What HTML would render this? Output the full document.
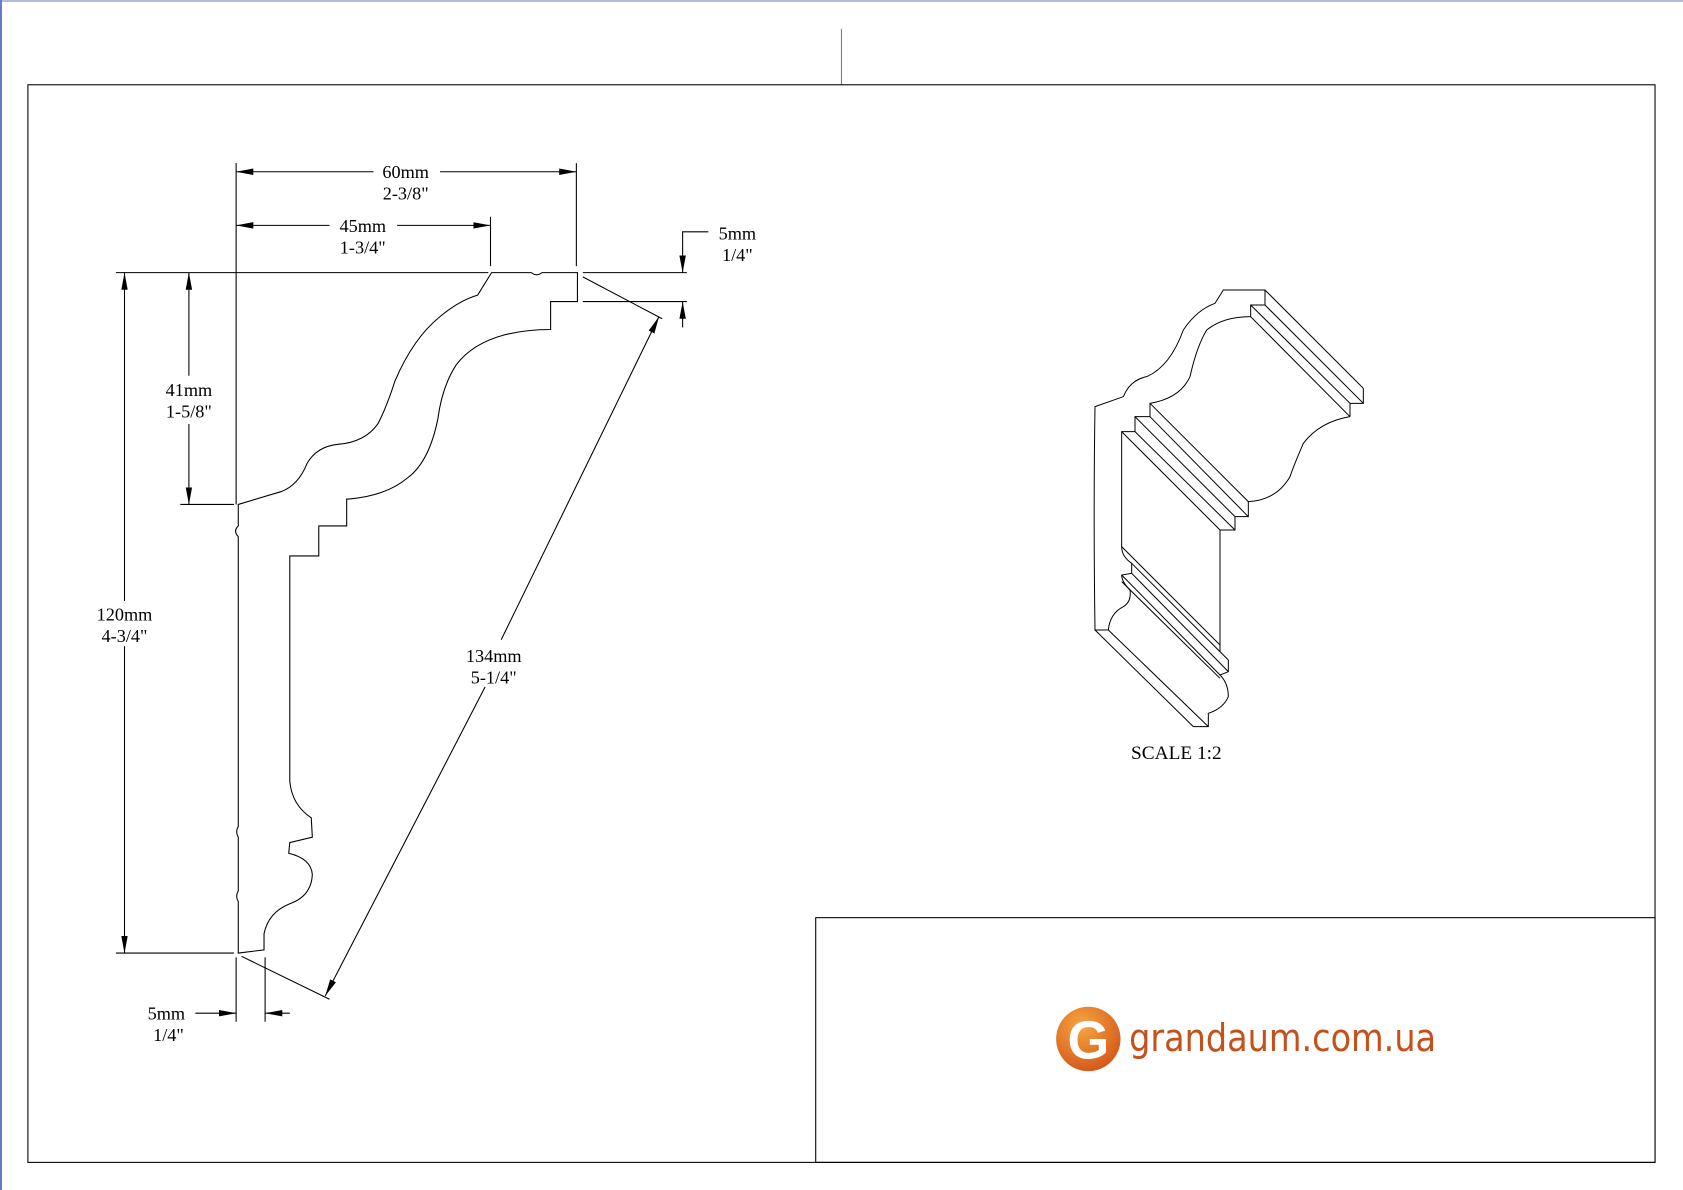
<!DOCTYPE html>
<html><head><meta charset="utf-8"><style>html,body{margin:0;padding:0;background:#fff}svg{display:block}</style></head>
<body>
<svg width="1683" height="1190" viewBox="0 0 1683 1190" xmlns="http://www.w3.org/2000/svg">
<defs>
<marker id="a" viewBox="0 0 16 6" refX="16" refY="3" markerWidth="16" markerHeight="6" markerUnits="userSpaceOnUse" orient="auto-start-reverse"><path d="M0,0 L16,3 L0,6 z" fill="#000"/></marker>
<radialGradient id="g" cx="40%" cy="30%" r="75%"><stop offset="0" stop-color="#f7a640"/><stop offset="1" stop-color="#d2561a"/></radialGradient>
</defs>
<rect x="0" y="0" width="1683" height="1190" fill="#fff"/>
<line x1="1" y1="0" x2="1" y2="1190" stroke="#6a78c8" stroke-width="2"/>
<line x1="0" y1="1" x2="1683" y2="1" stroke="#6a78c8" stroke-width="1"/>
<g transform="scale(1.0733)" fill="none" stroke="#000" stroke-width="1">
<line x1="784" y1="27" x2="784" y2="79" stroke="#4a8ab8"/>
<rect x="26" y="79" width="1516" height="1004"/>
<rect x="760" y="855" width="782" height="228"/>
<!-- profile -->
<path d="M458,254 L495,254 Q500,258 505,254 L531,254 L538,254 L538,281 L513,281 L513,307 Q490,307 470,312 Q440,320 425,340 Q412,360 408,390 Q400,430 380,445 Q360,462 325,465 L323,465 L323,490 L297,490 L297,518 L270,518 L270,728 Q272,750 290,762 L291,780 L270,785 L269,795 Q290,800 291,815 Q290,835 270,842 Q250,850 246,870 L246,885 L222,888 L222,840 Q219,835 222,830 L222,780 Q219,775 222,770 L222,500 Q217,495 222,490 L222,470 L262,458 Q278,452 286,432 Q295,416 315,414 Q340,412 352,395 Q360,380 368,355 Q385,315 410,295 Q428,280 445,275 Z"/>
<!-- extension lines -->
<line x1="220" y1="152" x2="220" y2="470"/>
<line x1="537" y1="152" x2="537" y2="248"/>
<line x1="457" y1="202" x2="457" y2="248"/>
<line x1="108" y1="254" x2="455" y2="254"/>
<line x1="543" y1="254" x2="640" y2="254"/>
<line x1="543" y1="281" x2="640" y2="281"/>
<line x1="168" y1="470" x2="218" y2="470"/>
<line x1="108" y1="888" x2="218" y2="888"/>
<line x1="220" y1="892" x2="220" y2="952"/>
<line x1="247" y1="892" x2="247" y2="952"/>
<line x1="543" y1="258" x2="617" y2="297"/>
<line x1="225" y1="891" x2="307" y2="931"/>
<!-- dims -->
<line x1="220" y1="160" x2="348" y2="160" marker-start="url(#a)"/>
<line x1="410" y1="160" x2="537" y2="160" marker-end="url(#a)"/>
<line x1="220" y1="210" x2="307" y2="210" marker-start="url(#a)"/>
<line x1="370" y1="210" x2="457" y2="210" marker-end="url(#a)"/>
<line x1="116" y1="254" x2="116" y2="560" marker-start="url(#a)"/>
<line x1="116" y1="602" x2="116" y2="888" marker-end="url(#a)"/>
<line x1="176" y1="254" x2="176" y2="350" marker-start="url(#a)"/>
<line x1="176" y1="395" x2="176" y2="470" marker-end="url(#a)"/>
<polyline points="660,216 636,216 636,254" marker-end="url(#a)"/>
<line x1="636" y1="305" x2="636" y2="281" marker-end="url(#a)"/>
<line x1="614" y1="295" x2="467" y2="596" marker-start="url(#a)"/>
<line x1="452" y1="640" x2="303" y2="928" marker-end="url(#a)"/>
<line x1="182" y1="944" x2="220" y2="944" marker-end="url(#a)"/>
<line x1="270" y1="944" x2="247" y2="944" marker-end="url(#a)"/>
<g fill="#000" stroke="none" font-family="Liberation Serif, serif" font-size="17" text-anchor="middle">
<text x="378" y="166">60mm</text><text x="378" y="186">2-3/8"</text>
<text x="338" y="216">45mm</text><text x="338" y="236">1-3/4"</text>
<text x="687" y="223">5mm</text><text x="687" y="243">1/4"</text>
<text x="116" y="578">120mm</text><text x="116" y="598">4-3/4"</text>
<text x="176" y="369">41mm</text><text x="176" y="389">1-5/8"</text>
<text x="460" y="617">134mm</text><text x="460" y="637">5-1/4"</text>
<text x="155" y="950">5mm</text><text x="157" y="970">1/4"</text>
<text x="1096" y="707" font-size="18">SCALE  1:2</text>
</g>
<!-- logo -->
<circle cx="1014" cy="968" r="30" fill="url(#g)" stroke="none"/>
<text x="1014" y="986" fill="#fff" stroke="none" font-family="Liberation Sans, sans-serif" font-weight="bold" font-size="50" text-anchor="middle">G</text>
<text x="1052" y="979" fill="#c4501c" stroke="none" font-family="DejaVu Sans, sans-serif" font-size="36" textLength="286" lengthAdjust="spacingAndGlyphs">grandaum.com.ua</text>
</g>
<!-- iso drawing -->
<g transform="translate(1080,280) scale(0.33333)" fill="none" stroke="#000" stroke-width="3">
<path d="M45,380 Q40,700 45,1050 L85,1050 Q90,1000 130,980 Q155,965 150,930 Q125,905 125,885 L155,880 L155,850 Q125,830 125,800 L125,455 L165,455 L165,410 L210,410 L210,370 Q300,355 330,290 Q350,200 380,150 Q430,110 512,110 L512,75 L555,75 L555,30 L430,30 L405,70 Q350,90 310,150 Q270,260 200,290 Q150,300 130,350 Z"/>
<line x1="555" y1="30" x2="850" y2="325"/>
<line x1="555" y1="75" x2="850" y2="370"/>
<line x1="512" y1="75" x2="810" y2="370"/>
<line x1="512" y1="110" x2="810" y2="410"/>
<polyline points="850,325 850,370 810,370 810,410"/>
<path d="M810,410 Q720,425 670,490 Q640,560 630,590 Q590,660 505,665 L505,710 L465,710 L465,750 L420,750 L420,1115"/>
<line x1="210" y1="370" x2="505" y2="665"/>
<line x1="210" y1="410" x2="505" y2="710"/>
<line x1="165" y1="410" x2="465" y2="710"/>
<line x1="165" y1="455" x2="465" y2="750"/>
<line x1="125" y1="455" x2="420" y2="750"/>
<line x1="125" y1="800" x2="420" y2="1095"/>
<line x1="155" y1="850" x2="445" y2="1140"/>
<line x1="155" y1="880" x2="445" y2="1175"/>
<line x1="125" y1="885" x2="420" y2="1185"/>
<line x1="125" y1="905" x2="420" y2="1195"/>
<path d="M445,1140 L445,1175 L420,1185 Q445,1210 445,1250 Q430,1285 385,1300 L385,1340 L340,1340"/>
<line x1="45" y1="1050" x2="340" y2="1340"/>
<line x1="85" y1="1050" x2="385" y2="1340"/>
</g>
</svg>
</body></html>
